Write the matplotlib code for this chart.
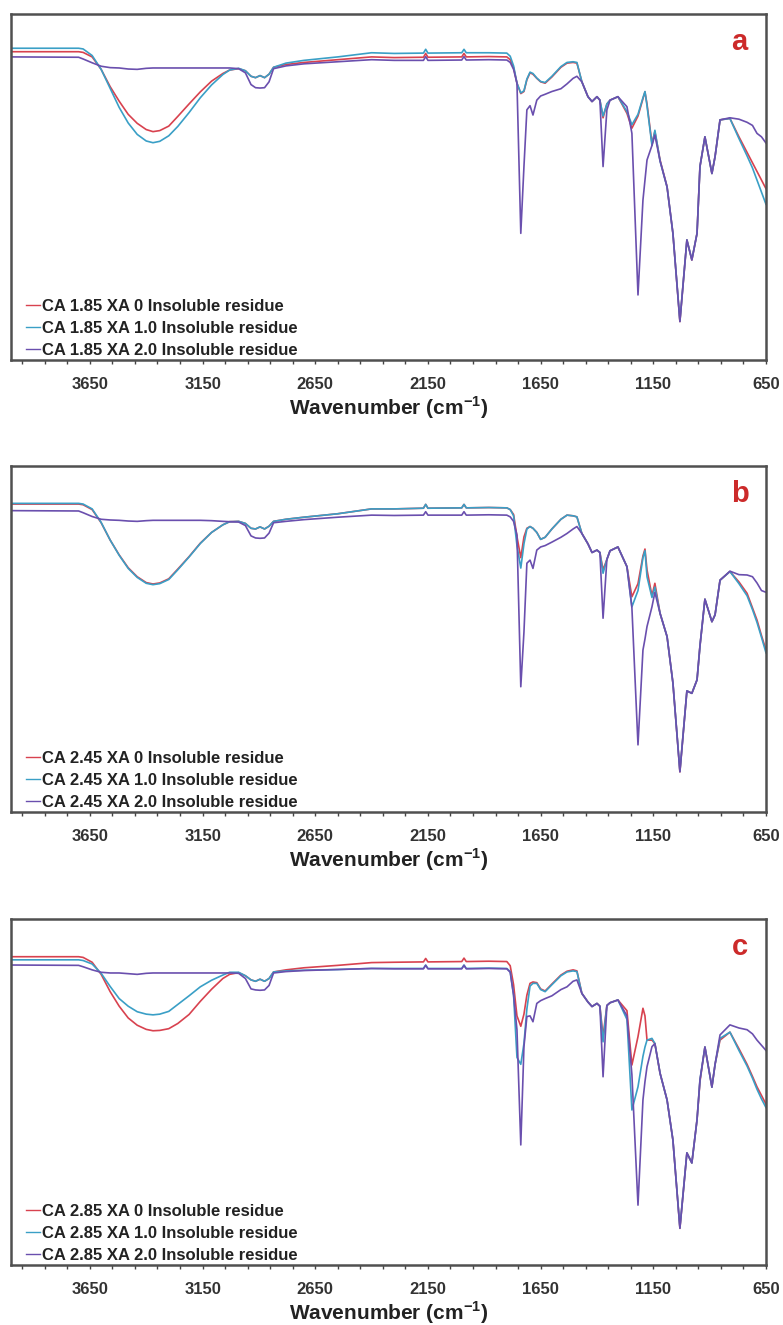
import matplotlib.pyplot as plt

plt.rcParams['font.family'] = ['Liberation Sans', 'DejaVu Sans']
plt.rcParams['mathtext.fontset'] = 'custom'
plt.rcParams['mathtext.rm'] = 'Liberation Sans'
plt.rcParams['mathtext.bf'] = 'Liberation Sans:bold'

# common wavenumber grid (cm-1) shared by all spectra
wavenumber = [4000, 3700, 3680, 3640, 3600, 3560, 3520, 3480, 3440, 3400,
              3370, 3340, 3300, 3260, 3210, 3160, 3110, 3060, 3030, 2990,
              2960, 2935, 2915, 2895, 2875, 2855, 2835, 2780, 2700, 2550,
              2400, 2300, 2170, 2160, 2150, 2000, 1990, 1980, 1880, 1800,
              1785, 1770, 1755, 1738, 1724, 1711, 1697, 1684, 1667, 1650,
              1630, 1600, 1560, 1533, 1506, 1489, 1467, 1440, 1422, 1400,
              1387, 1373, 1356, 1342, 1307, 1267, 1245, 1218, 1196, 1187,
              1178, 1156, 1143, 1120, 1089, 1063, 1032, 1001, 979, 956,
              943, 921, 890, 876, 854, 810, 770, 734, 710, 690,
              670, 650]

# transmittance (%) -- DS 1.85
a_xa0 = [89.1, 89.1, 88.9, 87.6, 84.0, 79.0, 74.8, 71.0, 68.4, 66.6,
         66.0, 66.3, 67.6, 70.4, 74.0, 77.5, 80.6, 82.8, 83.8, 84.2,
         83.6, 82.0, 81.6, 82.2, 81.6, 82.6, 84.6, 85.4, 86.0, 86.8,
         87.6, 87.4, 87.5, 88.6, 87.5, 87.6, 88.6, 87.6, 87.7, 87.6,
         86.8, 84.5, 80.0, 77.0, 77.6, 81.0, 83.0, 82.6, 81.4, 80.4,
         80.0, 81.8, 84.6, 85.8, 86.0, 85.8, 80.4, 76.1, 74.7, 76.1,
         75.1, 70.0, 74.0, 75.1, 76.1, 71.3, 67.0, 70.5, 75.5, 77.5,
         74.0, 62.6, 66.0, 57.8, 50.1, 36.6, 11.1, 34.7, 28.9, 36.6,
         55.9, 64.5, 53.9, 58.8, 69.4, 69.8, 64.5, 60.0, 57.0, 54.5,
         52.0, 49.5]
a_xa10 = [90.1, 90.1, 89.9, 88.0, 84.0, 78.5, 73.0, 68.5, 65.2, 63.3,
          62.8, 63.2, 64.8, 67.5, 71.5, 75.8, 79.5, 82.5, 83.8, 84.3,
          83.6, 82.0, 81.6, 82.2, 81.6, 82.6, 84.6, 85.8, 86.6, 87.6,
          88.8, 88.6, 88.7, 89.8, 88.7, 88.8, 89.8, 88.8, 88.8, 88.7,
          87.8, 85.0, 80.0, 77.2, 77.8, 81.2, 83.2, 82.8, 81.5, 80.5,
          80.2, 82.0, 84.8, 86.0, 86.2, 86.0, 80.4, 76.1, 74.7, 76.1,
          75.1, 70.5, 74.0, 75.1, 76.1, 71.8, 68.0, 71.0, 75.8, 77.6,
          73.5, 62.0, 66.4, 57.5, 50.0, 36.6, 11.3, 34.7, 29.0, 36.6,
          55.9, 64.5, 53.9, 58.8, 69.4, 69.8, 64.0, 59.0, 55.5, 52.0,
          48.5, 45.0]
a_xa20 = [87.6, 87.5, 87.0, 85.9, 84.9, 84.5, 84.4, 84.1, 84.0, 84.3,
          84.4, 84.4, 84.4, 84.4, 84.4, 84.4, 84.4, 84.4, 84.4, 84.2,
          83.0, 79.6, 78.7, 78.6, 78.7, 80.4, 84.2, 85.0, 85.6, 86.2,
          86.8, 86.6, 86.6, 87.7, 86.6, 86.7, 87.7, 86.7, 86.8, 86.7,
          86.0, 84.0, 80.0, 36.6, 55.9, 72.3, 73.5, 70.8, 75.1, 76.3,
          76.8, 77.6, 78.4, 79.8, 81.4, 82.0, 80.4, 76.1, 74.7, 76.1,
          75.1, 55.9, 72.3, 75.1, 76.1, 73.2, 65.5, 18.8, 46.2, 52.0,
          57.8, 62.0, 65.0, 57.5, 50.0, 36.6, 11.1, 34.7, 28.9, 36.6,
          55.9, 64.5, 53.9, 58.8, 69.4, 70.0, 69.6, 68.7, 67.8, 65.5,
          64.5, 62.7]

# transmittance (%) -- DS 2.45
b_xa0 = [89.0, 89.0, 88.8, 87.4, 83.6, 78.6, 74.3, 70.6, 68.0, 66.3,
         65.9, 66.2, 67.4, 70.2, 73.8, 77.7, 80.8, 83.0, 83.9, 84.0,
         83.4, 82.0, 81.8, 82.4, 81.8, 82.6, 84.0, 84.6, 85.2, 86.2,
         87.6, 87.6, 87.8, 88.9, 87.8, 87.9, 88.9, 87.9, 88.0, 87.9,
         87.4, 86.0, 79.6, 73.5, 79.5, 82.0, 82.5, 82.0, 80.8, 78.8,
         79.4, 81.8, 84.6, 85.8, 85.6, 85.3, 80.5, 77.5, 75.0, 75.7,
         75.0, 70.0, 73.0, 75.5, 76.6, 70.9, 62.2, 66.0, 74.0, 76.0,
         70.0, 62.5, 66.1, 57.4, 50.7, 37.3, 11.6, 35.0, 34.3, 38.2,
         48.0, 61.5, 55.0, 57.0, 67.0, 69.5, 66.5, 63.2, 59.0, 55.5,
         51.0, 46.8]
b_xa10 = [89.2, 89.2, 89.0, 87.6, 83.7, 78.6, 74.2, 70.4, 67.8, 66.1,
          65.7, 66.0, 67.2, 70.0, 73.7, 77.6, 80.8, 83.0, 83.9, 84.0,
          83.4, 82.0, 81.8, 82.4, 81.8, 82.6, 84.0, 84.6, 85.2, 86.2,
          87.6, 87.6, 87.8, 88.9, 87.8, 87.9, 88.9, 87.9, 88.0, 87.9,
          87.4, 85.6, 77.0, 70.5, 77.5, 81.8, 82.5, 82.0, 80.8, 78.8,
          79.4, 81.8, 84.6, 85.8, 85.6, 85.3, 80.5, 77.5, 75.0, 75.7,
          75.0, 69.0, 73.0, 75.5, 76.6, 70.9, 59.3, 64.0, 73.5, 75.5,
          68.0, 62.0, 65.0, 57.4, 50.7, 37.3, 11.8, 35.0, 34.3, 38.2,
          48.0, 61.5, 55.0, 57.0, 67.0, 69.5, 66.0, 62.5, 58.5, 54.8,
          50.5, 46.0]
b_xa20 = [87.1, 87.0, 86.5, 85.4, 84.6, 84.4, 84.3, 84.1, 84.0, 84.2,
          84.3, 84.3, 84.3, 84.3, 84.3, 84.3, 84.2, 84.0, 83.9, 83.8,
          82.8, 79.8, 79.2, 79.1, 79.2, 80.6, 83.6, 84.0, 84.5, 85.2,
          85.8, 85.7, 85.8, 86.8, 85.8, 85.8, 86.8, 85.8, 85.9, 85.8,
          85.3, 84.0, 80.0, 36.2, 52.0, 71.9, 72.8, 70.4, 75.7, 76.6,
          77.0, 78.0, 79.4, 80.5, 81.8, 82.5, 80.5, 77.5, 75.0, 75.7,
          75.0, 56.0, 73.0, 75.5, 76.6, 70.9, 59.0, 19.4, 46.8, 50.0,
          53.6, 59.3, 63.5, 57.4, 50.7, 37.3, 11.6, 35.0, 34.3, 38.2,
          48.0, 61.5, 55.0, 57.0, 67.0, 69.6, 68.6, 68.5, 68.0, 66.2,
          64.0, 63.5]

# transmittance (%) -- DS 2.85
c_xa0 = [89.1, 89.1, 88.9, 87.5, 84.0, 79.0, 74.8, 71.4, 69.3, 68.1,
         67.7, 67.8, 68.3, 69.8, 72.4, 76.2, 79.7, 82.8, 84.0, 84.5,
         83.6, 82.4, 82.0, 82.6, 82.0, 82.8, 84.7, 85.3, 85.9, 86.6,
         87.4, 87.5, 87.6, 88.6, 87.6, 87.7, 88.7, 87.7, 87.8, 87.7,
         86.5, 81.0, 72.0, 69.0, 72.5, 78.0, 81.4, 81.8, 81.6, 79.8,
         79.2, 81.2, 83.8, 84.9, 85.3, 85.0, 78.5, 76.0, 74.7, 75.6,
         74.8, 66.0, 75.0, 75.8, 76.6, 73.5, 57.8, 66.0, 74.2, 72.0,
         65.0, 65.0, 64.0, 55.4, 47.7, 36.1, 10.6, 32.4, 29.5, 42.0,
         53.0, 63.0, 51.4, 58.0, 65.0, 67.3, 62.5, 58.0, 54.5, 51.5,
         49.0, 46.5]
c_xa10 = [88.2, 88.2, 88.0, 87.0, 84.3, 80.5, 77.0, 74.8, 73.2, 72.5,
          72.3, 72.5, 73.3, 75.3, 77.8, 80.4, 82.3, 83.8, 84.6, 84.6,
          83.6, 82.4, 82.0, 82.6, 82.0, 82.8, 84.7, 85.0, 85.2, 85.4,
          85.7, 85.7, 85.7, 86.7, 85.7, 85.7, 86.7, 85.7, 85.8, 85.7,
          84.8, 78.0, 60.0, 58.0, 64.0, 74.0, 80.6, 81.4, 81.4, 79.6,
          79.0, 81.0, 83.6, 84.7, 85.0, 84.8, 78.5, 76.0, 74.7, 75.6,
          74.8, 64.5, 75.0, 75.8, 76.6, 71.0, 44.8, 51.5, 60.3, 63.0,
          65.0, 65.5, 64.0, 55.4, 47.7, 36.1, 10.8, 32.4, 29.5, 42.0,
          53.5, 63.0, 51.4, 58.0, 65.5, 67.3, 62.0, 57.5, 54.0, 50.8,
          48.0, 45.5]
c_xa20 = [86.7, 86.6, 86.2, 85.3, 84.6, 84.4, 84.4, 84.2, 84.0, 84.3,
          84.4, 84.4, 84.4, 84.4, 84.4, 84.4, 84.4, 84.4, 84.4, 84.3,
          82.8, 79.8, 79.5, 79.4, 79.5, 80.8, 84.4, 84.8, 85.1, 85.4,
          85.7, 85.6, 85.6, 86.6, 85.6, 85.6, 86.6, 85.6, 85.7, 85.6,
          84.6, 78.0, 68.0, 34.7, 63.1, 71.8, 72.0, 70.3, 75.6, 76.4,
          77.0, 77.8, 79.6, 80.4, 82.0, 82.4, 78.5, 76.0, 74.7, 75.6,
          74.8, 54.4, 75.0, 75.8, 76.6, 72.0, 55.0, 17.3, 47.7, 53.0,
          57.3, 63.1, 64.0, 55.4, 47.7, 36.1, 10.6, 32.4, 29.5, 42.0,
          53.5, 63.0, 51.4, 58.0, 66.5, 69.4, 68.5, 68.0, 66.8, 65.0,
          63.5, 62.0]

panel_letters = ['a', 'b', 'c']
ds_values = ['1.85', '2.45', '2.85']
xa_levels = ['0', '1.0', '2.0']
spectra = [[a_xa0, a_xa10, a_xa20],
           [b_xa0, b_xa10, b_xa20],
           [c_xa0, c_xa10, c_xa20]]
line_colors = ['#d8424f', '#3a9fc6', '#6a4fae']

major_ticks = [3650, 3150, 2650, 2150, 1650, 1150, 650]
minor_ticks = [w for w in range(750, 4000, 100) if w not in major_ticks]

W, H = 783, 1325
fig = plt.figure(figsize=(W / 100, H / 100), dpi=100)

# axes boxes in pixels: left, bottom, width, height
panel_boxes = [(11, 965, 755, 346), (11, 513, 755, 346), (11, 60, 755, 346)]

for letter, ds, series, box in zip(panel_letters, ds_values, spectra, panel_boxes):
    x0, y0, w, h = box
    ax = fig.add_axes([x0 / W, y0 / H, w / W, h / H])

    for xa, values, color in zip(xa_levels, series, line_colors):
        ax.plot(wavenumber, values, color=color, lw=1.2,
                label=f'CA {ds} XA {xa} Insoluble residue')

    ax.set_xlim(4000, 650)
    ax.set_ylim(0, 100)
    ax.set_yticks([])
    ax.set_xticks(major_ticks)
    ax.set_xticks(minor_ticks, minor=True)
    ax.tick_params(axis='x', which='both', direction='out', length=3,
                   width=1, color='#444444', pad=9, labelsize=12,
                   labelcolor='#333333')
    for lbl in ax.get_xticklabels():
        lbl.set_fontweight('bold')
    for spine in ax.spines.values():
        spine.set_color('#505050')
        spine.set_linewidth(1.8)

    ax.set_xlabel(r'Wavenumber (cm$^{\mathbf{-1}}$)', fontsize=15,
                  fontweight='bold', color='#222222', labelpad=2)

    ax.text(0.965, 0.92, letter, transform=ax.transAxes, color='#cc2a2a',
            fontsize=21, fontweight='bold', ha='center', va='center')

    leg = ax.legend(loc='lower left', bbox_to_anchor=(15 / w, 0.005),
                    frameon=False, borderaxespad=0, borderpad=0,
                    handlelength=0.85, handletextpad=0.12, labelspacing=0.42,
                    prop={'size': 12, 'weight': 'bold'})
    for txt in leg.get_texts():
        txt.set_color('#222222')
    for hl in leg.get_lines():
        hl.set_linewidth(1.0)

fig.savefig('out.png', dpi=100, facecolor='white')
